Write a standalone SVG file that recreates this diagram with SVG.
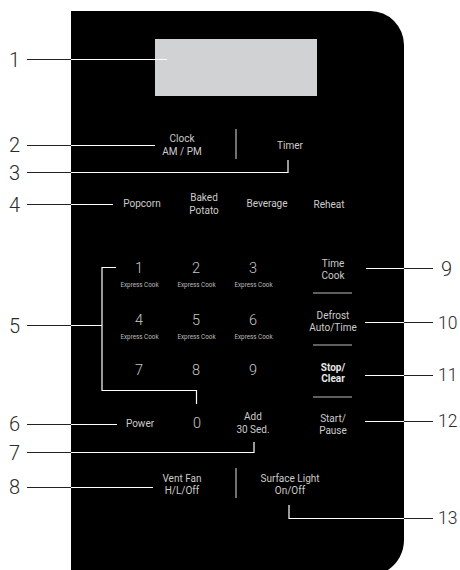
<svg xmlns="http://www.w3.org/2000/svg" width="460" height="570" viewBox="0 0 460 570">
<style>
.t{font-family:Roboto,"Liberation Sans",sans-serif;fill:#cccccc;font-size:10px;text-anchor:middle}
.b{font-weight:bold;fill:#e8e8e8}
.d{font-family:Roboto,"Liberation Sans",sans-serif;fill:#c8c8c8;font-size:14.5px;font-weight:300;text-anchor:middle}
.x{font-family:Roboto,"Liberation Sans",sans-serif;fill:#bdbdbd;font-size:6.3px;text-anchor:middle}
.n{font-family:Roboto,"DejaVu Sans",sans-serif;fill:#2a2a2a;font-size:20px;font-weight:300}
.m{font-size:17.5px}
.w{fill:none;stroke:#ffffff;stroke-width:1.2}
.k{fill:none;stroke:#222;stroke-width:1.2}
.sep{stroke:#bdbdbd;stroke-width:1.2}
</style>
<rect width="460" height="570" fill="#ffffff"/>
<g id="panel">
<path d="M71,11 H370 A34,34 0 0 1 404,45 V540 A36,36 0 0 1 388,570 H71 Z" fill="#000000"/>
<rect id="display" x="155" y="39" width="162" height="57" fill="#d1d2d4"/>
<line class="sep" x1="236" y1="129" x2="236" y2="159"/>
<line class="sep" x1="236" y1="468" x2="236" y2="498"/>
<line class="sep" x1="313" y1="293" x2="352" y2="293"/>
<line class="sep" x1="313" y1="345" x2="352" y2="345"/>
<line class="sep" x1="313" y1="397" x2="352" y2="397"/>
</g>
<g id="buttons">
<g id="clock"><text class="t" x="182" y="142">Clock</text><text class="t" x="182" y="155">AM / PM</text></g>
<g id="timer"><text class="t" x="290" y="149">Timer</text></g>
<g id="popcorn"><text class="t" x="142" y="207">Popcorn</text></g>
<g id="potato"><text class="t" x="204" y="201">Baked</text><text class="t" x="204" y="214">Potato</text></g>
<g id="beverage"><text class="t" x="267" y="207">Beverage</text></g>
<g id="reheat"><text class="t" x="329" y="208">Reheat</text></g>
<g id="k1"><text class="d" x="139" y="273">1</text><text class="x" x="139.5" y="287">Express Cook</text></g>
<g id="k2"><text class="d" x="196" y="273">2</text><text class="x" x="196.5" y="287">Express Cook</text></g>
<g id="k3"><text class="d" x="253" y="273">3</text><text class="x" x="253.5" y="287">Express Cook</text></g>
<g id="k4"><text class="d" x="139" y="325">4</text><text class="x" x="139.5" y="339">Express Cook</text></g>
<g id="k5"><text class="d" x="196" y="325">5</text><text class="x" x="196.5" y="339">Express Cook</text></g>
<g id="k6"><text class="d" x="253" y="325">6</text><text class="x" x="253.5" y="339">Express Cook</text></g>
<g id="k7"><text class="d" x="139" y="375">7</text></g>
<g id="k8"><text class="d" x="196" y="375">8</text></g>
<g id="k9"><text class="d" x="253" y="375">9</text></g>
<g id="k0"><text class="d" x="197" y="428">0</text></g>
<g id="timecook"><text class="t" x="333" y="267">Time</text><text class="t" x="333" y="279">Cook</text></g>
<g id="defrost"><text class="t" x="333" y="319">Defrost</text><text class="t" x="333" y="331">Auto/Time</text></g>
<g id="stop"><text class="t b" x="333" y="371">Stop/</text><text class="t b" x="333" y="382">Clear</text></g>
<g id="start"><text class="t" x="333" y="422">Start/</text><text class="t" x="333" y="434">Pause</text></g>
<g id="power"><text class="t" x="140" y="427">Power</text></g>
<g id="add30"><text class="t" x="253" y="420">Add</text><text class="t" x="253" y="433">30 Sed.</text></g>
<g id="vent"><text class="t" x="182" y="482">Vent Fan</text><text class="t" x="182" y="494">H/L/Off</text></g>
<g id="light"><text class="t" x="290" y="482">Surface Light</text><text class="t" x="290" y="494">On/Off</text></g>
</g>
<g id="callouts">
<text class="n" x="9" y="67">1</text>
<text class="n" x="9" y="152">2</text>
<text class="n" x="9" y="180">3</text>
<text class="n" x="9" y="212">4</text>
<text class="n" x="9" y="333">5</text>
<text class="n" x="9" y="431">6</text>
<text class="n" x="9" y="460">7</text>
<text class="n" x="9" y="494">8</text>
<text class="n" x="441" y="276">9</text>
<text class="n m" x="438" y="329">10</text>
<text class="n m" x="438" y="381">11</text>
<text class="n m" x="438" y="427">12</text>
<text class="n m" x="438" y="524">13</text>
</g>
<g id="connectors">
<path class="k" d="M27,59.5 H71 M27,145.5 H71 M27,172.5 H71 M27,204.5 H71 M27,325.5 H71 M27,424.5 H71 M27,452.5 H71 M27,487.5 H71"/>
<path class="k" d="M404,268.5 H433 M404,322.5 H433 M404,375.5 H433 M404,421.5 H433 M404,518.5 H433"/>
<path class="w" d="M71,59.5 H167"/>
<path class="w" d="M71,145.5 H155"/>
<path class="w" d="M71,172.5 H288 V160"/>
<path class="w" d="M71,204.5 H113"/>
<path class="w" d="M71,325.5 H102 M116,267.5 H102 V390.5 H196.5 V404"/>
<path class="w" d="M71,424.5 H117"/>
<path class="w" d="M71,452.5 H254 V442"/>
<path class="w" d="M71,487.5 H153"/>
<path class="w" d="M366,268.5 H404"/>
<path class="w" d="M365,322.5 H404"/>
<path class="w" d="M365,375.5 H404"/>
<path class="w" d="M365,421.5 H404"/>
<path class="w" d="M289,505 V518.5 H404"/>
</g>
</svg>
